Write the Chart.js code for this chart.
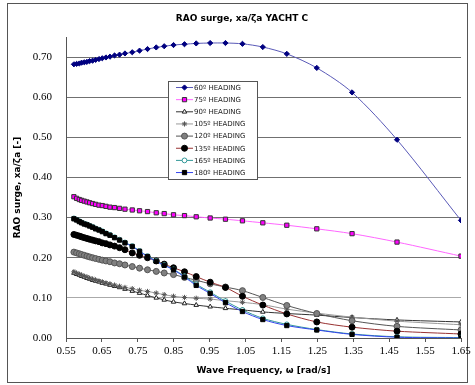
<!DOCTYPE html>
<html>
<head>
<meta charset="utf-8">
<script src="https://cdn.jsdelivr.net/npm/chart.js@4"></script>
<style>
  html, body { margin: 0; padding: 0; background: #fff; }
  #wrap { width: 475px; height: 385px; }
</style>
</head>
<body>
<div id="wrap"><canvas id="myChart" width="475" height="385"></canvas></div>
<script>
// wave frequencies (rad/s)
var freqs = [0.572, 0.5795, 0.587, 0.5934, 0.6009, 0.6084, 0.6157, 0.624, 0.6324, 0.6418,
  0.651, 0.6613, 0.6724, 0.6852, 0.6991, 0.7142, 0.7345, 0.7548, 0.777, 0.8013,
  0.8235, 0.8494, 0.88, 0.9126, 0.9515, 0.9941, 1.0414, 1.0981, 1.1649, 1.2484,
  1.3466, 1.4718, 1.65]

var rao60 = [0.682, 0.683, 0.684, 0.686, 0.687, 0.688, 0.690, 0.691, 0.693, 0.695,
  0.697, 0.699, 0.701, 0.704, 0.706, 0.709, 0.712, 0.716, 0.720, 0.724,
  0.727, 0.730, 0.732, 0.734, 0.735, 0.735, 0.733, 0.725, 0.708, 0.673,
  0.612, 0.494, 0.293]
var rao75 = [0.352, 0.348, 0.345, 0.343, 0.341, 0.339, 0.337, 0.335, 0.333, 0.331,
  0.330, 0.328, 0.326, 0.325, 0.323, 0.321, 0.319, 0.317, 0.315, 0.312,
  0.310, 0.307, 0.305, 0.302, 0.299, 0.296, 0.292, 0.287, 0.281, 0.272,
  0.260, 0.239, 0.204]
var rao90 = [0.162, 0.159, 0.157, 0.154, 0.152, 0.149, 0.147, 0.144, 0.142, 0.140,
  0.137, 0.135, 0.132, 0.129, 0.126, 0.122, 0.117, 0.112, 0.106, 0.100,
  0.095, 0.090, 0.086, 0.082, 0.078, 0.074, 0.070, 0.065, 0.061, 0.057,
  0.051, 0.045, 0.040]
var rao105 = [0.165, 0.162, 0.159, 0.157, 0.154, 0.152, 0.149, 0.147, 0.145, 0.142,
  0.140, 0.137, 0.135, 0.132, 0.129, 0.126, 0.123, 0.119, 0.116, 0.112,
  0.108, 0.104, 0.101, 0.099, 0.097, 0.093, 0.089, 0.083, 0.072, 0.062,
  0.052, 0.042, 0.033]
var rao120 = [0.214, 0.212, 0.210, 0.208, 0.206, 0.204, 0.202, 0.200, 0.198, 0.196,
  0.194, 0.192, 0.190, 0.187, 0.185, 0.182, 0.178, 0.174, 0.170, 0.166,
  0.162, 0.158, 0.151, 0.144, 0.135, 0.127, 0.118, 0.101, 0.081, 0.061,
  0.043, 0.029, 0.020]
var rao135 = [0.258, 0.256, 0.254, 0.252, 0.250, 0.248, 0.246, 0.244, 0.242, 0.240,
  0.237, 0.235, 0.232, 0.229, 0.225, 0.220, 0.212, 0.206, 0.200, 0.192,
  0.184, 0.175, 0.165, 0.153, 0.139, 0.126, 0.104, 0.082, 0.060, 0.040,
  0.027, 0.017, 0.010]
var rao165 = [0.298, 0.295, 0.291, 0.288, 0.285, 0.283, 0.280, 0.277, 0.273, 0.270,
  0.266, 0.261, 0.257, 0.251, 0.245, 0.238, 0.229, 0.217, 0.204, 0.192,
  0.182, 0.171, 0.154, 0.134, 0.114, 0.092, 0.070, 0.049, 0.034, 0.021,
  0.010, 0.003, 0.001]
var rao180 = [0.297, 0.294, 0.290, 0.287, 0.284, 0.282, 0.279, 0.276, 0.272, 0.269,
  0.265, 0.260, 0.256, 0.250, 0.244, 0.237, 0.228, 0.216, 0.203, 0.191,
  0.181, 0.170, 0.152, 0.131, 0.111, 0.088, 0.066, 0.046, 0.031, 0.020,
  0.009, 0.002, 0.000]

var headings = ['60º HEADING', '75º HEADING', '90º HEADING', '105º HEADING',
  '120º HEADING', '135º HEADING', '165º HEADING', '180º HEADING']

var xTicks = [0.55, 0.65, 0.75, 0.85, 0.95, 1.05, 1.15, 1.25, 1.35, 1.45, 1.55, 1.65]
var yTicks = [0, 0.1, 0.2, 0.3, 0.4, 0.5, 0.6, 0.7]

function pts(vals) {
  return vals.map(function (v, i) { return { x: freqs[i], y: v } })
}

// styles per heading
var styles = [
  { line: '#5a5ab8', fill: '#000080', edge: '#000080', shape: 'rectRot', r: 2.6 },
  { line: '#ff66ff', fill: '#ff00ff', edge: '#333333', shape: 'rect', r: 3 },
  { line: '#333333', fill: '#ffffff', edge: '#222222', shape: 'triangle', r: 2.6 },
  { line: '#9a9a9a', fill: '#ffffff', edge: '#555555', shape: 'star', r: 2.6 },
  { line: '#555555', fill: '#808080', edge: '#555555', shape: 'circle', r: 3 },
  { line: '#993333', fill: '#000000', edge: '#000000', shape: 'circle', r: 3 },
  { line: '#339999', fill: '#ffffff', edge: '#339999', shape: 'circle', r: 2.4 },
  { line: '#3344ee', fill: '#000000', edge: '#000000', shape: 'rect', r: 3 }
]
var series = [rao60, rao75, rao90, rao105, rao120, rao135, rao165, rao180]

var datasets = []
for (let i = 0; i < series.length; i++) {
  var s = styles[i]
  datasets.push({
    label: headings[i],
    data: pts(series[i]),
    showLine: true,
    borderColor: s.line,
    borderWidth: 1,
    tension: 0.3,
    pointStyle: s.shape,
    pointRadius: s.r,
    pointHoverRadius: s.r,
    pointBackgroundColor: s.fill,
    pointBorderColor: s.edge,
    pointBorderWidth: 1,
    order: series.length - i   // later headings sit on top, like the original
  })
}

// frame, title and the boxed legend
var decor = {
  id: 'decor',
  beforeDraw: function (chart) {
    var ctx = chart.ctx
    ctx.save()
    ctx.fillStyle = '#fff'
    ctx.fillRect(0, 0, chart.width, chart.height)
    ctx.strokeStyle = '#555'
    ctx.lineWidth = 1
    ctx.strokeRect(7.5, 3.5, 460, 379)
    ctx.fillStyle = '#000'
    ctx.font = 'bold 9px "DejaVu Sans"'
    ctx.textAlign = 'center'
    ctx.textBaseline = 'middle'
    ctx.fillText('RAO surge, xa/ζa YACHT C', 242, 19)
    ctx.restore()
  },
  afterDraw: function (chart) {
    var ctx = chart.ctx
    var bx = 168, by = 81, bw = 89, bh = 98
    ctx.save()
    ctx.fillStyle = '#fff'
    ctx.fillRect(bx, by, bw, bh)
    ctx.strokeStyle = '#555'
    ctx.lineWidth = 1
    ctx.strokeRect(bx + 0.5, by + 0.5, bw, bh)
    ctx.font = '7px "DejaVu Sans"'
    ctx.textBaseline = 'middle'
    ctx.textAlign = 'left'
    chart.data.datasets.forEach(function (ds, i) {
      var y = 87.5 + i * 12.15
      ctx.strokeStyle = ds.borderColor
      ctx.lineWidth = 1
      ctx.beginPath()
      ctx.moveTo(176, y)
      ctx.lineTo(193, y)
      ctx.stroke()
      ctx.fillStyle = ds.pointBackgroundColor
      ctx.strokeStyle = ds.pointBorderColor
      Chart.helpers.drawPoint(ctx, { pointStyle: ds.pointStyle, radius: ds.pointRadius, rotation: 0, borderWidth: 1 }, 184.5, y)
      ctx.fillStyle = '#222'
      ctx.fillText(ds.label, 194, y + 0.5)
    })
    ctx.restore()
  }
}

var myChart = new Chart(document.getElementById('myChart'), {
  type: 'scatter',
  data: { datasets: datasets },
  plugins: [decor],
  options: {
    responsive: false,
    animation: false,
    events: [],
    layout: { padding: { left: 10, right: 14, top: 37, bottom: 5 } },
    plugins: {
      legend: { display: false },
      tooltip: { enabled: false },
      title: { display: false }
    },
    scales: {
      x: {
        type: 'linear',
        min: 0.55,
        max: 1.65,
        afterBuildTicks: function (scale) {
          scale.ticks = xTicks.map(function (v) { return { value: v } })
        },
        afterFit: function (scale) { scale.height = 42 },
        border: { display: true, color: '#555', width: 1 },
        grid: { display: true, drawOnChartArea: false, drawTicks: true, tickLength: 4, color: '#555' },
        ticks: {
          color: '#000',
          padding: 3,
          maxRotation: 0,
          font: { family: '"Liberation Serif"', size: 11 },
          callback: function (v) { return v.toFixed(2) }
        },
        title: {
          display: true,
          text: 'Wave Frequency, ω [rad/s]',
          color: '#000',
          padding: { top: 4, bottom: 4 },
          font: { family: '"DejaVu Sans"', size: 9, weight: 'bold' }
        }
      },
      y: {
        type: 'linear',
        min: 0,
        max: 0.75,
        afterBuildTicks: function (scale) {
          scale.ticks = yTicks.map(function (v) { return { value: v } })
        },
        afterFit: function (scale) { scale.width = 56 },
        border: { display: true, color: '#555', width: 1 },
        grid: {
          drawTicks: false,
          color: function (c) { return c.tick && Math.abs(c.tick.value - 0.1) < 1e-6 ? '#aaaaaa' : '#707070' },
          lineWidth: 1
        },
        ticks: {
          color: '#000',
          padding: 14,
          font: { family: '"Liberation Serif"', size: 11 },
          callback: function (v) { return v.toFixed(2) }
        },
        title: {
          display: true,
          text: 'RAO surge, xa/ζa [-]',
          color: '#000',
          padding: { top: 2, bottom: 0 },
          font: { family: '"DejaVu Sans"', size: 9, weight: 'bold' }
        }
      }
    }
  }
})
</script>
</body>
</html>
